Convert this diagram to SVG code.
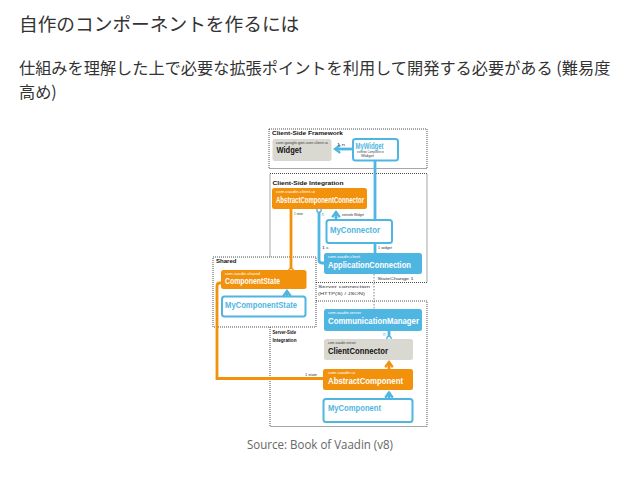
<svg xmlns="http://www.w3.org/2000/svg" width="638" height="493" viewBox="0 0 638 493">
<defs>
<style>
.title{font-family:"Noto Sans CJK JP","Noto Sans",sans-serif;fill:#333}
.zone{fill:none;stroke:#222;stroke-width:0.8;stroke-dasharray:1 1}
.zonew{fill:#fff;stroke:#222;stroke-width:0.8;stroke-dasharray:1 1}
.zlabel{font-family:"Liberation Sans",Arial,sans-serif;font-weight:bold;font-size:5.5px;fill:#111}
.orange{fill:#f2910c}
.blue{fill:#4fb6e2}
.gray{fill:#d9d8d1}
.mine{fill:#fff;stroke:#4fb6e2;stroke-width:2}
.pkgw{font-family:"Liberation Sans",Arial,sans-serif;font-size:3.6px;fill:#fff}
.pkgk{font-family:"Liberation Sans",Arial,sans-serif;font-size:3.6px;fill:#444}
.nw{font-family:"Liberation Sans",Arial,sans-serif;font-size:8.5px;font-weight:bold;fill:#fff}
.nk{font-family:"Liberation Sans",Arial,sans-serif;font-size:9px;font-weight:bold;fill:#111}
.nb{font-family:"Liberation Sans",Arial,sans-serif;font-size:8.5px;font-weight:bold;fill:#4fb6e2}
.tiny{font-family:"Liberation Sans",Arial,sans-serif;font-size:4px;fill:#333}
.tinyb{font-family:"Liberation Sans",Arial,sans-serif;font-size:4.5px;fill:#4fb6e2}
.lb{fill:none;stroke:#4fb6e2;stroke-width:2.8}
.lo{fill:none;stroke:#f2910c;stroke-width:2.8}
.ld{fill:none;stroke:#999;stroke-width:1.2;stroke-dasharray:1.5 1.5}
.src{font-family:"Open Sans","Liberation Sans",sans-serif;font-size:12px;fill:#666}
</style>
<marker id="ab" viewBox="0 0 10 10" refX="7" refY="5" markerWidth="3.4" markerHeight="3.4" orient="auto" markerUnits="strokeWidth">
<path d="M1.5,1 L7,5 L1.5,9" fill="none" stroke="#4fb6e2" stroke-width="2.4"/>
</marker>
<marker id="ao" viewBox="0 0 10 10" refX="7" refY="5" markerWidth="3.4" markerHeight="3.4" orient="auto" markerUnits="strokeWidth">
<path d="M1.5,1 L7,5 L1.5,9" fill="none" stroke="#f2910c" stroke-width="2.4"/>
</marker>
</defs>
<rect width="638" height="493" fill="#fff"/>

<g id="heading">
<text class="title" x="19" y="31" font-size="18.7">自作のコンポーネントを作るには</text>
<text class="title" x="19" y="74" font-size="16.2">仕組みを理解した上で必要な拡張ポイントを利用して開発する必要がある (難易度</text>
<text class="title" x="19" y="98" font-size="16.2">高め)</text>
</g>

<g id="zones">
<rect id="zone-framework" class="zone" x="269" y="129" width="158" height="39.5"/>
<text class="zlabel" x="272" y="134.5" textLength="71" lengthAdjust="spacingAndGlyphs">Client-Side Framework</text>
<rect id="zone-integration" class="zone" x="270" y="173.5" width="157" height="109"/>
<text class="zlabel" x="272.5" y="185" textLength="71" lengthAdjust="spacingAndGlyphs">Client-Side Integration</text>
<rect id="zone-server" class="zone" x="270" y="301" width="157" height="125.5"/>
<rect id="zone-shared" class="zonew" x="213" y="257" width="103" height="70"/>
<text class="zlabel" x="216" y="263" textLength="20.5" lengthAdjust="spacingAndGlyphs">Shared</text>
<text class="zlabel" x="272.5" y="334" textLength="23.5" lengthAdjust="spacingAndGlyphs">Server-Side</text>
<text class="zlabel" x="272.5" y="342" textLength="24" lengthAdjust="spacingAndGlyphs">Integration</text>
</g>

<g id="connectors">
<line class="lb" x1="352" y1="149" x2="335" y2="149" marker-end="url(#ab)"/>
<text class="tiny" x="337" y="146" textLength="8" lengthAdjust="spacingAndGlyphs">1 n</text>
<line class="lb" x1="375" y1="160" x2="375" y2="220"/>
<line class="lb" x1="336" y1="220" x2="336" y2="212" marker-end="url(#ab)"/>
<text class="tiny" x="342" y="216" textLength="22" lengthAdjust="spacingAndGlyphs">extends Widget</text>
<path class="lb" d="M319,210 V260 Q319,263 322,263 H324"/>
<circle cx="319" cy="210" r="2.2" fill="#fff" stroke="#4fb6e2" stroke-width="1.3"/>
<text class="tinyb" x="321.5" y="216">n</text>
<line class="lb" x1="375" y1="243" x2="375" y2="253"/>
<text class="tiny" x="322" y="249" textLength="7" lengthAdjust="spacingAndGlyphs">1 c</text>
<text class="tiny" x="378" y="249" textLength="14" lengthAdjust="spacingAndGlyphs">1 widget</text>
<line class="lo" x1="291" y1="209" x2="291" y2="270"/>
<circle cx="291" cy="270.5" r="2.2" fill="#fff" stroke="#f2910c" stroke-width="1.3"/>
<text class="tiny" x="294" y="215" textLength="9" lengthAdjust="spacingAndGlyphs">1 state</text>
<line class="lb" x1="287" y1="296" x2="287" y2="291" marker-end="url(#ab)"/>
<line class="ld" x1="374" y1="274" x2="374" y2="309"/>
<text class="tiny" x="377.5" y="280" textLength="36" lengthAdjust="spacingAndGlyphs">StateChange   1</text>
<text class="tiny" x="318" y="287.5" textLength="52" lengthAdjust="spacingAndGlyphs">Server connection</text>
<text class="tiny" x="318" y="295" textLength="47" lengthAdjust="spacingAndGlyphs">(HTTP(S) / JSON)</text>
<line class="lb" x1="389" y1="331" x2="389" y2="338"/>
<circle cx="389" cy="338.5" r="2.2" fill="#fff" stroke="#4fb6e2" stroke-width="1.3"/>
<text class="tinyb" x="383" y="335.5" font-size="4">n</text>
<line class="lo" x1="389" y1="369" x2="389" y2="362" marker-end="url(#ao)"/>
<line class="lb" x1="389" y1="399" x2="389" y2="392.5" marker-end="url(#ab)"/>
<path class="lo" d="M323,378.5 H217 V286 Q217,283 220,283 H221"/>
<text class="tiny" x="305" y="376" textLength="12" lengthAdjust="spacingAndGlyphs">1 state</text>
</g>

<g id="node-widget">
<rect class="gray" x="272.5" y="139" width="59" height="22" rx="2.5"/>
<text class="pkgk" x="276" y="143.5" textLength="52" lengthAdjust="spacingAndGlyphs">com.google.gwt.user.client.ui</text>
<text class="nk" x="276.5" y="153" font-size="9.5" textLength="25" lengthAdjust="spacingAndGlyphs">Widget</text>
</g>

<g id="node-mywidget">
<rect class="mine" x="353" y="139" width="45" height="21.5" rx="2.5"/>
<text class="nb" x="355.5" y="149" textLength="28" lengthAdjust="spacingAndGlyphs">MyWidget</text>
<text class="pkgk" x="357" y="152.5" textLength="27" lengthAdjust="spacingAndGlyphs">extends Composite or</text>
<text class="pkgk" x="361" y="157" textLength="13" lengthAdjust="spacingAndGlyphs">Widget</text>
</g>

<g id="node-abstractcomponentconnector">
<rect class="orange" x="272" y="188" width="95" height="21" rx="2.5"/>
<text class="pkgw" x="276" y="193" textLength="39" lengthAdjust="spacingAndGlyphs">com.vaadin.client.ui</text>
<text class="nw" x="276" y="202.5" textLength="88" lengthAdjust="spacingAndGlyphs">AbstractComponentConnector</text>
</g>

<g id="node-myconnector">
<rect class="mine" x="326.5" y="220" width="65.5" height="23" rx="2.5"/>
<text class="nb" x="330" y="232.5" textLength="50" lengthAdjust="spacingAndGlyphs">MyConnector</text>
</g>

<g id="node-applicationconnection">
<rect class="blue" x="324" y="253" width="98" height="21" rx="2.5"/>
<text class="pkgw" x="328" y="258" textLength="32" lengthAdjust="spacingAndGlyphs">com.vaadin.client</text>
<text class="nw" x="328" y="267.5" textLength="83" lengthAdjust="spacingAndGlyphs">ApplicationConnection</text>
</g>

<g id="node-componentstate">
<rect class="orange" x="221" y="270" width="85.5" height="19" rx="2.5"/>
<text class="pkgw" x="225" y="275" textLength="35" lengthAdjust="spacingAndGlyphs">com.vaadin.shared</text>
<text class="nw" x="225" y="283.5" textLength="55" lengthAdjust="spacingAndGlyphs">ComponentState</text>
</g>

<g id="node-mycomponentstate">
<rect class="mine" x="222" y="296.5" width="83.5" height="20" rx="2.5"/>
<text class="nb" x="225" y="308" textLength="72" lengthAdjust="spacingAndGlyphs">MyComponentState</text>
</g>

<g id="node-communicationmanager">
<rect class="blue" x="324" y="309" width="98" height="22" rx="2.5"/>
<text class="pkgw" x="328" y="314" textLength="33" lengthAdjust="spacingAndGlyphs">com.vaadin.server</text>
<text class="nw" x="328" y="323.5" textLength="91" lengthAdjust="spacingAndGlyphs">CommunicationManager</text>
</g>

<g id="node-clientconnector">
<rect class="gray" x="324" y="339" width="89" height="21" rx="2.5"/>
<text class="pkgk" x="328" y="344" textLength="28" lengthAdjust="spacingAndGlyphs">com.vaadin.server</text>
<text class="nk" x="328" y="353.5" font-size="8.5" textLength="60" lengthAdjust="spacingAndGlyphs">ClientConnector</text>
</g>

<g id="node-abstractcomponent">
<rect class="orange" x="323" y="369" width="90" height="21" rx="2.5"/>
<text class="pkgw" x="328" y="374" textLength="27" lengthAdjust="spacingAndGlyphs">com.vaadin.ui</text>
<text class="nw" x="328" y="383.5" textLength="75" lengthAdjust="spacingAndGlyphs">AbstractComponent</text>
</g>

<g id="node-mycomponent">
<rect class="mine" x="323.5" y="399" width="89" height="23" rx="2.5"/>
<text class="nb" x="328" y="411" textLength="53" lengthAdjust="spacingAndGlyphs">MyComponent</text>
</g>

<text class="src" x="247" y="449" textLength="146" lengthAdjust="spacingAndGlyphs">Source: Book of Vaadin (v8)</text>
</svg>
